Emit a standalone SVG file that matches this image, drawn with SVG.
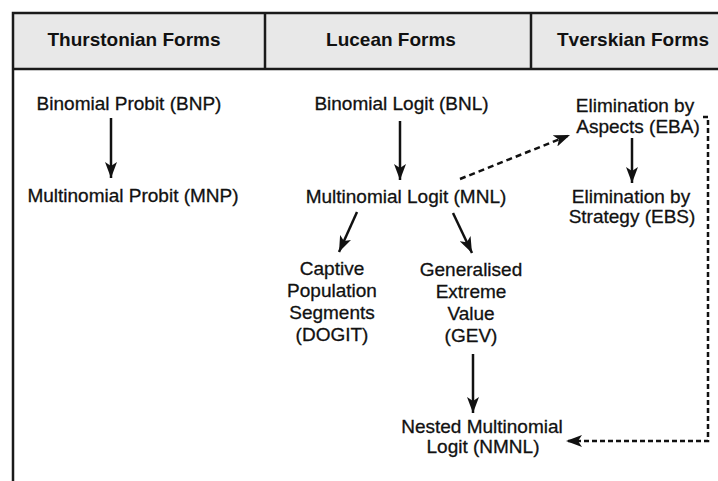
<svg xmlns="http://www.w3.org/2000/svg" width="718" height="481" viewBox="0 0 718 481">
<style>
text{font-family:"Liberation Sans",Arial,sans-serif;font-size:19px;fill:#111;text-anchor:middle;stroke:#111;stroke-width:0.3}
.hd{font-weight:bold;stroke-width:0}
.frame{stroke:#1a1a1a;stroke-width:2.5;fill:none}
.c{stroke:#111;stroke-width:2.5;fill:none}
.d{stroke:#111;stroke-width:2.5;fill:none;stroke-dasharray:6 4}
.d2{stroke:#111;stroke-width:2.5;fill:none;stroke-dasharray:5 3}
</style>
<defs>
<marker id="ah" markerUnits="userSpaceOnUse" markerWidth="16" markerHeight="12" viewBox="0 0 16 12" refX="16" refY="6" orient="auto">
<path d="M0,0 L16,6 L0,12 L4,6 Z" fill="#111"/>
</marker>
</defs>
<rect width="718" height="481" fill="#fff"/>
<g id="frame">
<rect x="13" y="13" width="710" height="56" fill="#e8e8e8"/>
<path class="frame" d="M13,481 V13 H718 M13,69 H718 M265,13 V69 M531,13 V69"/>
</g>
<g id="headers">
<text class="hd" x="134" y="46">Thurstonian Forms</text>
<text class="hd" x="391" y="46">Lucean Forms</text>
<text class="hd" x="633" y="46">Tverskian Forms</text>
</g>
<g id="BNP"><text x="129" y="110">Binomial Probit (BNP)</text></g>
<g id="MNP"><text x="133" y="202">Multinomial Probit (MNP)</text></g>
<g id="BNL"><text x="401.5" y="110">Binomial Logit (BNL)</text></g>
<g id="MNL"><text x="406" y="203">Multinomial Logit (MNL)</text></g>
<g id="EBA"><text x="635" y="112">Elimination by</text><text x="638" y="133">Aspects (EBA)</text></g>
<g id="EBS"><text x="631" y="203">Elimination by</text><text x="632" y="223">Strategy (EBS)</text></g>
<g id="DOGIT"><text x="332" y="275">Captive</text><text x="332" y="297">Population</text><text x="332" y="319">Segments</text><text x="332" y="341">(DOGIT)</text></g>
<g id="GEV"><text x="471" y="276">Generalised</text><text x="471" y="298">Extreme</text><text x="471" y="320">Value</text><text x="471" y="342">(GEV)</text></g>
<g id="NMNL"><text x="482" y="433">Nested Multinomial</text><text x="483" y="453">Logit (NMNL)</text></g>
<g id="connectors">
<line class="c" x1="111" y1="118" x2="111" y2="178" marker-end="url(#ah)"/>
<line class="c" x1="400" y1="121" x2="400" y2="180" marker-end="url(#ah)"/>
<line class="d" x1="460" y1="179" x2="570" y2="135" marker-end="url(#ah)"/>
<line class="c" x1="632" y1="138" x2="632" y2="183" marker-end="url(#ah)"/>
<line class="c" x1="357" y1="212" x2="339" y2="252" marker-end="url(#ah)"/>
<line class="c" x1="453" y1="213" x2="472" y2="253" marker-end="url(#ah)"/>
<line class="c" x1="473" y1="354" x2="473" y2="413" marker-end="url(#ah)"/>
<path class="d2" d="M703,117 H708 V441 H566" marker-end="url(#ah)"/>
</g>
</svg>
